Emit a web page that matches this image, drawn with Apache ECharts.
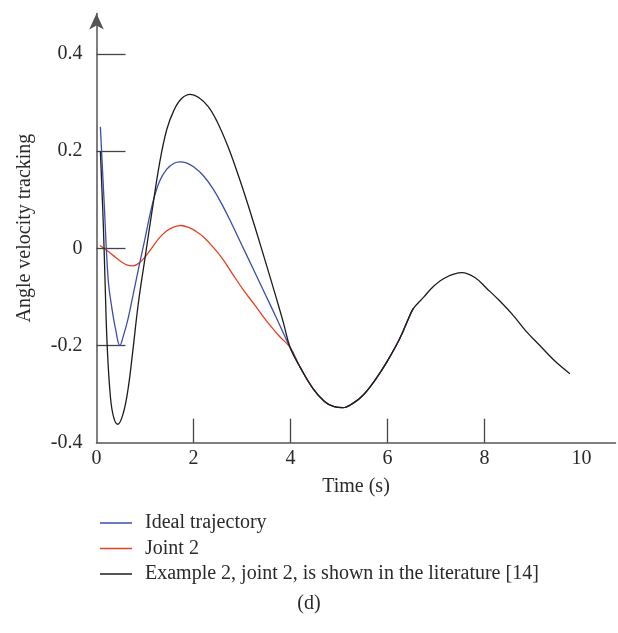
<!DOCTYPE html>
<html>
<head>
<meta charset="utf-8">
<script src="https://cdn.jsdelivr.net/npm/echarts@6/dist/echarts.min.js"></script>
<style>
  html, body { margin: 0; padding: 0; background: #fff; }
  #chart { width: 618px; height: 633px; }
</style>
</head>
<body>
<div id="chart"></div>
<script>
// values
const idealX = [0.08, 0.16, 0.24, 0.32, 0.40, 0.48, 0.56, 0.65, 0.75, 0.86, 1.0, 1.15, 1.3, 1.45, 1.6, 1.72, 1.85, 2.0, 2.2, 2.4, 2.6, 2.8, 3.0, 3.2, 3.4, 3.6, 3.8, 4.0,
  4.2, 4.46, 4.7, 4.9, 5.08, 5.3, 5.49, 5.75, 5.99, 6.25, 6.46, 6.53]
const idealY = [0.25, 0.09, -0.063, -0.125, -0.17, -0.2, -0.178, -0.145, -0.098, -0.045, 0.02, 0.09, 0.138, 0.163, 0.175, 0.178, 0.176, 0.168, 0.15, 0.123, 0.088, 0.048, 0.006, -0.036, -0.078, -0.12, -0.163, -0.206,
  -0.245, -0.288, -0.315, -0.326, -0.328, -0.318, -0.303, -0.27, -0.233, -0.186, -0.138, -0.124]

const jointX = [0.07, 0.2, 0.35, 0.5, 0.62, 0.75, 0.87, 1.0, 1.15, 1.3, 1.45, 1.6, 1.74, 1.9, 2.05, 2.2, 2.4, 2.61, 2.8, 3.03, 3.25, 3.44, 3.6, 3.78, 4.0,
  4.2, 4.46, 4.7, 4.9, 5.08, 5.3, 5.49, 5.75, 5.99, 6.25, 6.46, 6.53]
const jointY = [0.006, -0.003, -0.015, -0.027, -0.034, -0.036, -0.031, -0.018, 0.002, 0.022, 0.036, 0.044, 0.047, 0.043, 0.035, 0.024, 0.003, -0.023, -0.052, -0.086, -0.115, -0.141, -0.161, -0.182, -0.205,
  -0.245, -0.288, -0.315, -0.326, -0.328, -0.318, -0.303, -0.27, -0.233, -0.186, -0.138, -0.124]

const litX = [0.08, 0.14, 0.175, 0.22, 0.29, 0.36, 0.44, 0.55, 0.65, 0.75, 0.86, 1.0, 1.15, 1.3, 1.45, 1.6, 1.75, 1.93, 2.1, 2.3, 2.48, 2.7, 2.9, 3.1, 3.3, 3.5, 3.7, 3.85, 4.0,
  4.2, 4.46, 4.7, 4.9, 5.08, 5.3, 5.49, 5.75, 5.99, 6.25, 6.46, 6.53, 6.75, 6.94, 7.2, 7.53, 7.8, 8.05, 8.3, 8.59, 8.85, 9.14, 9.45, 9.76]
const litY = [0.2, 0.05, -0.063, -0.2, -0.309, -0.35, -0.362, -0.34, -0.29, -0.21, -0.115, -0.02, 0.08, 0.175, 0.245, 0.285, 0.308, 0.317, 0.311, 0.292, 0.262, 0.212, 0.157, 0.097, 0.033, -0.033, -0.1, -0.152, -0.206,
  -0.245, -0.288, -0.315, -0.326, -0.328, -0.318, -0.303, -0.27, -0.233, -0.186, -0.138, -0.124, -0.1, -0.079, -0.06, -0.05, -0.06, -0.083, -0.107, -0.138, -0.17, -0.2, -0.232, -0.258]

const xLabels = [0, 2, 4, 6, 8, 10]
const xTicks = [2, 4, 6, 8]
const yLabels = [-0.4, -0.2, 0, 0.2, 0.4]
const yTicks = [-0.2, 0, 0.2, 0.4]

const zip = (xs, ys) => xs.map((x, i) => [x, ys[i]])

const font = "'Liberation Serif', 'DejaVu Serif', serif"
const txt = '#2a2a2a'
const axisCol = '#555'

const chart = echarts.init(document.getElementById('chart'))

const line = (name, xs, ys, color, z) => ({
  name: name,
  type: 'line',
  data: zip(xs, ys),
  smooth: 0.4,
  symbol: 'none',
  z: z,
  lineStyle: { color: color, width: 1.3 },
  itemStyle: { color: color }
})

chart.setOption({
  animation: false,
  title: {
    text: '(d)',
    left: 'center',
    top: 589,
    textStyle: { fontFamily: font, fontSize: 20, fontWeight: 'normal', color: txt }
  },
  legend: {
    orient: 'vertical',
    left: 95,
    top: 508,
    icon: 'rect',
    itemWidth: 32,
    itemHeight: 1.5,
    itemGap: 5.5,
    textStyle: { fontFamily: font, fontSize: 20, color: txt, padding: [0, 0, 0, 8] }
  },
  grid: { left: 96.5, right: 2.5, top: 13.5, bottom: 190.3 },
  xAxis: {
    type: 'value',
    min: 0,
    max: 10.7,
    name: 'Time (s)',
    nameLocation: 'middle',
    nameGap: 34,
    nameTextStyle: { fontFamily: font, fontSize: 20, color: txt },
    axisLine: { onZero: false, lineStyle: { color: axisCol, width: 1.5 } },
    axisTick: { inside: true, length: 24, customValues: xTicks, lineStyle: { color: '#444', width: 1.3 } },
    axisLabel: { customValues: xLabels, margin: 6, fontFamily: font, fontSize: 20, color: txt },
    splitLine: { show: false }
  },
  yAxis: {
    type: 'value',
    min: -0.4,
    max: 0.4833,
    name: 'Angle velocity tracking',
    nameLocation: 'middle',
    nameGap: 62,
    nameTextStyle: { fontFamily: font, fontSize: 20, color: txt },
    axisLine: { onZero: false, lineStyle: { color: axisCol, width: 1.5 }, symbol: ['none', 'arrow'], symbolSize: [11, 16] },
    axisTick: { inside: true, length: 29, customValues: yTicks, lineStyle: { color: '#444', width: 1.3 } },
    axisLabel: { customValues: yLabels, margin: 14, fontFamily: font, fontSize: 20, color: txt },
    splitLine: { show: false }
  },
  series: [
    line('Ideal trajectory', idealX, idealY, '#3b4ea8', 3),
    line('Joint 2', jointX, jointY, '#e8401f', 2),
    line('Example 2, joint 2, is shown in the literature [14]', litX, litY, '#1c1c1c', 4)
  ]
})
</script>
</body>
</html>
